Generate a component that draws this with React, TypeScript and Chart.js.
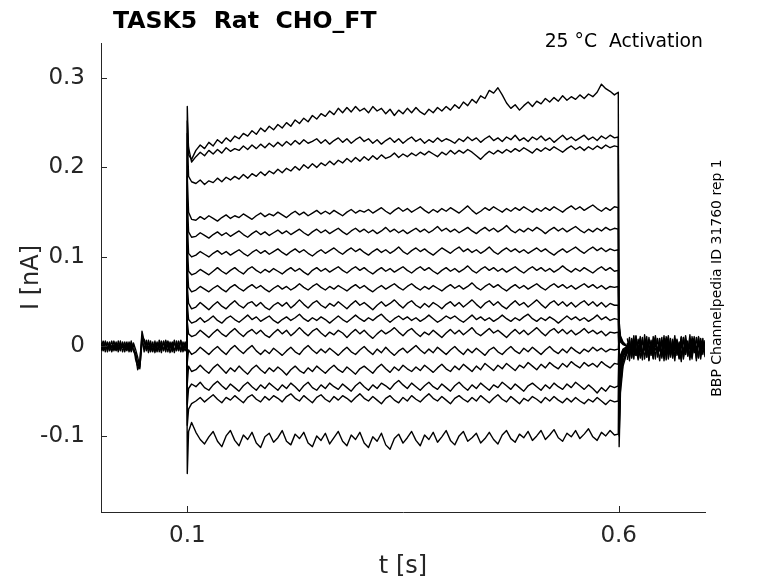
import React, { useEffect, useRef } from "react";
import { Chart, registerables } from "chart.js";

Chart.register(...registerables);

// time grid (s) for the voltage-step part of every sweep
const stepTimes = [
  0.0995, 0.1, 0.1015, 0.105,
  0.11, 0.115, 0.12, 0.125, 0.13, 0.135, 0.14, 0.145, 0.15, 0.155,
  0.16, 0.165, 0.17, 0.175, 0.18, 0.185, 0.19, 0.195, 0.2, 0.205,
  0.21, 0.215, 0.22, 0.225, 0.23, 0.235, 0.24, 0.245, 0.25, 0.255,
  0.26, 0.265, 0.27, 0.275, 0.28, 0.285, 0.29, 0.295, 0.3, 0.305,
  0.31, 0.315, 0.32, 0.325, 0.33, 0.335, 0.34, 0.345, 0.35, 0.355,
  0.36, 0.365, 0.37, 0.375, 0.38, 0.385, 0.39, 0.395, 0.4, 0.405,
  0.41, 0.415, 0.42, 0.425, 0.43, 0.435, 0.44, 0.445, 0.45, 0.455,
  0.46, 0.465, 0.47, 0.475, 0.48, 0.485, 0.49, 0.495, 0.5, 0.505,
  0.51, 0.515, 0.52, 0.525, 0.53, 0.535, 0.54, 0.545, 0.55, 0.555,
  0.56, 0.565, 0.57, 0.575, 0.58, 0.585, 0.59, 0.595,
  0.5995, 0.6005, 0.602, 0.605, 0.61,
];

// sweep currents in pA, top sweep first
const trace01 = [0, 268, 214, 209,
  219, 225, 221, 228, 224, 231, 227, 233, 229, 235,
  232, 238, 235, 241, 237, 244, 240, 246, 242, 248,
  244, 250, 246, 253, 249, 255, 251, 258, 254, 260,
  257, 263, 259, 266, 261, 267, 262, 268, 263, 266,
  261, 268, 263, 266, 260, 265, 258, 264, 260, 266,
  261, 267, 262, 259, 265, 261, 267, 263, 268, 264,
  270, 266, 273, 269, 276, 272, 280, 277, 286, 283,
  289, 281, 272, 266, 270, 264, 269, 273, 268, 274,
  271, 277, 273, 278, 274, 280, 275, 279, 276, 281,
  277, 282, 279, 284, 293, 288, 285, 281,
  284, -112, -52, -22, -6];
const trace02 = [0, 252, 222, 206,
  212, 217, 213, 219, 215, 220, 216, 222, 218, 221,
  219, 224, 220, 225, 221, 226, 222, 227, 223, 228,
  224, 229, 225, 230, 226, 231, 227, 229, 232, 227,
  231, 226, 230, 233, 228, 232, 227, 231, 234, 229,
  232, 227, 231, 226, 230, 233, 228, 232, 227, 231,
  234, 229, 232, 227, 231, 228, 233, 229, 232, 230,
  227, 232, 229, 234, 230, 233, 228, 232, 235, 230,
  233, 229, 234, 231, 236, 230, 233, 229, 234, 231,
  235, 230, 233, 228, 232, 236, 231, 234, 230, 233,
  236, 231, 234, 230, 235, 232, 236, 233,
  234, -100, -45, -18, -5];
const trace03 = [0, 238, 190, 184,
  182, 186, 181, 185, 183, 188, 184, 189, 186, 190,
  187, 192, 188, 193, 190, 195, 191, 196, 193, 198,
  194, 199, 196, 201, 197, 203, 199, 204, 200, 205,
  202, 207, 203, 208, 205, 210, 206, 211, 207, 212,
  208, 213, 209, 214, 210, 212, 216, 211, 215, 212,
  216, 213, 217, 214, 218, 215, 212, 217, 214, 219,
  215, 219, 216, 220, 217, 213, 209, 214, 218, 215,
  219, 216, 220, 217, 221, 218, 222, 219, 216, 221,
  218, 222, 219, 223, 220, 217, 221, 224, 220, 223,
  219, 223, 220, 224, 221, 225, 222, 224,
  223, -90, -40, -16, -4];
const trace04 = [0, 190, 150, 142,
  141, 145, 142, 146, 143, 140, 144, 147, 143, 146,
  144, 148, 145, 142, 146, 149, 145, 148, 146, 150,
  147, 144, 148, 151, 147, 150, 146, 149, 152, 148,
  151, 148, 152, 149, 146, 150, 153, 149, 152, 150,
  153, 149, 152, 155, 151, 148, 152, 155, 151, 154,
  150, 153, 156, 152, 149, 153, 150, 154, 151, 155,
  152, 149, 153, 157, 152, 148, 151, 155, 152, 156,
  153, 150, 154, 151, 155, 152, 156, 153, 150, 154,
  151, 155, 152, 156, 153, 150, 154, 157, 153, 156,
  152, 155, 158, 154, 151, 155, 152, 156,
  155, -70, -32, -12, -3];
const trace05 = [0, 165, 128, 122,
  123, 127, 124, 121, 125, 128, 124, 127, 123, 126,
  129, 125, 122, 126, 129, 125, 128, 124, 127, 130,
  126, 129, 125, 128, 131, 127, 124, 128, 131, 127,
  130, 126, 129, 132, 128, 125, 129, 132, 128, 131,
  127, 130, 126, 129, 133, 128, 131, 127, 130, 126,
  129, 132, 128, 131, 127, 130, 134, 129, 132, 128,
  131, 127, 130, 133, 129, 126, 130, 133, 129, 132,
  128, 131, 135, 130, 127, 131, 128, 132, 129, 133,
  130, 126, 130, 133, 129, 132, 128, 131, 134, 130,
  127, 131, 128, 132, 129, 133, 130, 132,
  131, -60, -28, -10, -3];
const trace06 = [0, 140, 104, 100,
  102, 106, 103, 100, 104, 107, 103, 106, 102, 105,
  108, 104, 101, 105, 108, 104, 107, 103, 106, 109,
  105, 102, 106, 109, 105, 108, 104, 101, 105, 108,
  104, 107, 110, 106, 103, 107, 110, 106, 109, 105,
  102, 106, 109, 105, 108, 104, 107, 111, 106, 103,
  107, 110, 106, 109, 105, 102, 106, 110, 107, 104,
  108, 111, 106, 109, 105, 108, 104, 107, 111, 106,
  103, 107, 110, 106, 109, 105, 108, 104, 107, 110,
  106, 109, 105, 102, 106, 109, 105, 108, 111, 107,
  104, 108, 111, 107, 110, 106, 109, 107,
  108, -52, -24, -9, -2];
const trace07 = [0, 115, 84, 80,
  82, 86, 83, 80, 84, 88, 84, 81, 85, 88,
  84, 81, 86, 89, 85, 82, 86, 83, 87, 84,
  81, 85, 88, 84, 87, 83, 80, 85, 88, 84,
  87, 83, 86, 89, 85, 82, 86, 89, 85, 88,
  84, 81, 85, 88, 84, 87, 83, 86, 89, 85,
  82, 86, 89, 85, 88, 84, 81, 85, 88, 84,
  87, 83, 86, 90, 85, 82, 86, 89, 85, 88,
  84, 87, 83, 86, 89, 85, 82, 86, 89, 85,
  88, 84, 87, 83, 86, 90, 86, 83, 87, 84,
  88, 85, 82, 86, 89, 85, 88, 84,
  85, -45, -20, -8, -2];
const trace08 = [0, 92, 66, 61,
  63, 67, 64, 61, 65, 68, 64, 61, 66, 69,
  65, 62, 66, 69, 65, 68, 64, 61, 65, 68,
  64, 67, 63, 66, 70, 66, 63, 67, 70, 66,
  63, 67, 64, 68, 65, 62, 66, 69, 65, 68,
  64, 61, 65, 68, 64, 67, 70, 66, 63, 67,
  70, 66, 63, 67, 64, 68, 65, 62, 66, 69,
  65, 68, 64, 67, 71, 66, 63, 67, 70, 66,
  69, 65, 62, 66, 69, 65, 68, 64, 67, 70,
  66, 63, 67, 70, 66, 69, 65, 68, 64, 67,
  70, 66, 69, 65, 68, 64, 67, 66,
  67, -38, -17, -6, -1];
const trace09 = [0, 68, 48, 42,
  44, 49, 45, 41, 46, 50, 45, 42, 47, 51,
  46, 43, 48, 50, 45, 49, 44, 41, 46, 49,
  45, 49, 43, 47, 52, 47, 43, 48, 51, 46,
  43, 48, 45, 50, 46, 42, 47, 51, 46, 49,
  45, 41, 46, 50, 45, 48, 52, 47, 43, 48,
  51, 46, 43, 48, 44, 49, 46, 42, 47, 50,
  45, 49, 44, 48, 52, 47, 43, 48, 51, 46,
  50, 45, 42, 47, 51, 46, 49, 44, 48, 52,
  47, 43, 48, 51, 46, 50, 45, 49, 44, 48,
  51, 46, 50, 45, 49, 44, 48, 46,
  46, -32, -14, -5, -1];
const trace10 = [0, 48, 30, 26,
  28, 32, 27, 30, 34, 29, 26, 31, 34, 30,
  27, 31, 35, 30, 33, 28, 31, 34, 29, 26,
  30, 33, 29, 32, 36, 31, 28, 32, 29, 33,
  30, 26, 30, 34, 30, 27, 31, 35, 31, 28,
  32, 29, 33, 36, 31, 27, 31, 34, 30, 33,
  29, 32, 28, 31, 35, 31, 27, 30, 34, 31,
  34, 30, 27, 31, 35, 30, 33, 29, 32, 28,
  31, 35, 31, 28, 32, 29, 33, 36, 31, 28,
  32, 29, 33, 30, 26, 30, 34, 30, 33, 29,
  32, 28, 31, 35, 30, 33, 29, 31,
  30, -28, -12, -4, -1];
const trace11 = [0, 28, 14, 11,
  13, 18, 14, 10, 15, 19, 14, 11, 16, 20,
  15, 11, 16, 19, 14, 18, 13, 10, 15, 19,
  14, 18, 12, 16, 21, 16, 12, 17, 20, 15,
  11, 16, 13, 18, 15, 10, 15, 19, 14, 18,
  13, 9, 14, 18, 14, 17, 21, 16, 12, 17,
  20, 15, 11, 16, 13, 18, 14, 10, 15, 19,
  14, 18, 13, 17, 21, 15, 12, 16, 20, 15,
  18, 14, 10, 15, 19, 14, 18, 13, 17, 21,
  16, 12, 17, 20, 15, 19, 14, 18, 13, 16,
  20, 15, 18, 14, 17, 12, 16, 15,
  16, -22, -10, -3, 0];
const trace12 = [0, -18, -4, -9,
  -6, -1, -5, -9, -4, 0, -5, -9, -3, 1,
  -4, -8, -3, 1, -5, -9, -4, -8, -2, -6,
  -10, -5, -1, -6, -9, -3, 1, -4, -8, -3,
  -7, -2, -6, -10, -5, -1, -6, -9, -4, 0,
  -5, -9, -3, -7, -1, -6, -10, -5, -2, -7,
  -3, 1, -4, -8, -3, -7, -1, -5, -9, -4,
  0, -5, -9, -3, -7, -2, -6, -10, -4, -1,
  -6, -9, -4, 0, -5, -8, -2, -6, -1, -5,
  -9, -4, 0, -5, -8, -3, -7, -1, -5, -8,
  -3, -6, -1, -5, -2, -6, -3, -4,
  -3, 10, 5, 2, 0];
const trace13 = [0, -42, -22, -28,
  -26, -21, -26, -30, -24, -20, -25, -30, -24, -28,
  -22, -27, -31, -25, -21, -26, -30, -24, -28, -23,
  -27, -32, -26, -22, -27, -30, -24, -28, -22, -26,
  -30, -25, -21, -26, -29, -23, -27, -31, -25, -22,
  -26, -30, -24, -20, -25, -29, -23, -27, -21, -25,
  -28, -23, -27, -21, -25, -29, -24, -20, -25, -28,
  -22, -26, -20, -24, -28, -22, -26, -19, -23, -27,
  -21, -25, -19, -23, -27, -21, -24, -18, -22, -26,
  -20, -24, -18, -22, -25, -19, -23, -17, -21, -24,
  -18, -22, -19, -23, -17, -21, -24, -19,
  -20, 14, 7, 3, 0];
const trace14 = [0, -65, -47, -42,
  -45, -40, -46, -49, -43, -39, -44, -48, -42, -46,
  -50, -44, -40, -45, -49, -43, -47, -41, -45, -49,
  -43, -47, -41, -45, -50, -44, -40, -46, -49, -43,
  -47, -41, -45, -48, -42, -46, -50, -44, -40, -45,
  -49, -43, -47, -41, -44, -48, -42, -38, -43, -47,
  -41, -45, -49, -44, -40, -45, -48, -42, -46, -50,
  -44, -40, -45, -49, -43, -47, -41, -45, -49, -43,
  -46, -40, -44, -48, -42, -46, -50, -44, -41, -45,
  -49, -43, -47, -41, -45, -48, -42, -46, -40, -44,
  -48, -43, -47, -52, -46, -50, -44, -46,
  -44, 18, 9, 3, 0];
const trace15 = [0, -88, -70, -64,
  -61, -57, -62, -58, -54, -59, -63, -57, -60, -55,
  -59, -63, -57, -54, -59, -62, -56, -60, -55, -58,
  -62, -56, -53, -58, -61, -55, -59, -63, -57, -54,
  -59, -62, -56, -60, -55, -58, -62, -57, -53, -58,
  -61, -56, -60, -64, -58, -55, -60, -63, -57, -61,
  -55, -59, -62, -57, -53, -58, -61, -56, -60, -64,
  -58, -55, -59, -62, -57, -61, -55, -59, -63, -58,
  -54, -59, -62, -56, -60, -64, -58, -61, -56, -59,
  -63, -57, -61, -56, -60, -63, -58, -62, -57, -61,
  -64, -59, -62, -57, -61, -65, -60, -62,
  -61, 22, 10, 4, 0];
const trace16 = [0, -142, -95, -85,
  -96, -104, -109, -101, -95, -106, -112, -100, -94, -105,
  -111, -99, -104, -96, -108, -113, -101, -97, -107, -102,
  -94, -106, -110, -98, -103, -96, -108, -112, -100, -105,
  -97, -109, -102, -95, -106, -111, -99, -104, -96, -108,
  -113, -101, -106, -97, -110, -115, -103, -98, -108, -102,
  -95, -105, -111, -99, -104, -96, -107, -101, -94, -105,
  -110, -100, -95, -106, -102, -97, -108, -103, -96, -104,
  -109, -99, -94, -103, -107, -98, -102, -95, -105, -100,
  -94, -104, -99, -93, -102, -106, -97, -101, -94, -103,
  -98, -92, -101, -105, -96, -100, -94, -99,
  -98, 28, 12, 5, 0];

const traces = [
  trace01, trace02, trace03, trace04, trace05, trace06, trace07, trace08,
  trace09, trace10, trace11, trace12, trace13, trace14, trace15, trace16,
];

// holding baseline before the step (pA)
const preTimes = [
  0, 0.0025, 0.005, 0.0075, 0.01, 0.0125, 0.015, 0.0175, 0.02, 0.0225,
  0.025, 0.0275, 0.03, 0.0325, 0.035, 0.0375, 0.04, 0.0425, 0.045, 0.0475,
  0.05, 0.0525, 0.055, 0.0575, 0.06, 0.0625, 0.065, 0.0675, 0.07, 0.0725,
  0.075, 0.0775, 0.08, 0.0825, 0.085, 0.0875, 0.09, 0.0925, 0.095, 0.0975,
  0.0995,
];
const preA = [4, -5, 6, -3, 5, -6, 2, -5, 6, -2, 5, -6, 3, -4, 6, -5, -10, -26, -20, 17,
  6, -5, 7, -3, 5, -7, 3, -2, 6, -5, 3, -6, 5, -3, 7, -5, 2, -6, 5, -2, 3];
const preB = [-5, 3, -6, 5, -2, 6, -5, 3, -4, 6, -6, 2, -5, 5, -3, 3, -14, -22, -16, 12,
  -6, 7, -3, 6, -5, 3, -6, 7, -3, 5, -6, 6, -2, 5, -7, 3, -5, 6, -3, 5, -3];
const preC = [2, -4, 5, -6, 3, -2, 6, -4, 2, -5, 3, -2, 5, -6, 2, -4, -7, -18, -25, 8,
  -3, 5, -7, 2, -6, 6, -5, 3, -7, 6, -3, 5, -7, 2, -5, 6, -3, 7, -6, 3, 0];
const preD = [-1, 6, -2, 4, -5, 1, -3, 5, -6, 3, -1, 5, -4, 2, -6, 4, -3, -12, -23, 3,
  8, -2, 4, -6, 1, -3, 5, -6, 2, -4, 7, -1, 3, -6, 4, -2, 6, -4, 1, -5, 1];

// baseline after the step (pA)
const postTimes = [
  0.61, 0.6125, 0.615, 0.6175, 0.62, 0.6225, 0.625, 0.6275, 0.63, 0.6325,
  0.635, 0.6375, 0.64, 0.6425, 0.645, 0.6475, 0.65, 0.6525, 0.655, 0.6575,
  0.66, 0.6625, 0.665, 0.6675, 0.67, 0.6725, 0.675, 0.6775, 0.68, 0.6825,
  0.685, 0.6875, 0.69, 0.6925, 0.695, 0.6975, 0.7,
];
const postA = [-8, 6, -12, 4, -10, 8, -6, 10, -14, 3, -9, 7, -13, 5, -7, 9, -11, 2, -8, 10,
  -12, 6, -5, 8, -14, 4, -9, 7, -11, 3, -6, 9, -13, 5, -8, 6, -10];
const postB = [4, -11, 9, -7, 11, -13, 5, -9, 8, -12, 10, -6, 7, -14, 9, -5, 6, -12, 11, -8,
  4, -13, 9, -7, 5, -11, 10, -9, 6, -15, 8, -6, 10, -12, 4, -9, 7];
const postC = [-15, 2, -6, 12, -10, 1, -13, 7, -4, 11, -16, 3, -8, 9, -12, 0, -7, 12, -15, 4,
  -9, 8, -11, 1, -6, 10, -14, 5, -10, 8, -3, 11, -16, 6, -7, 9, -12];
const postD = [3, -16, 8, -3, 12, -8, 0, -15, 13, -5, 2, -10, 11, -4, -1, -16, 7, -2, 9, -14,
  1, -6, 12, -10, -2, -17, 10, -4, 3, -12, 11, -7, 0, -13, 9, -3, 2];
const postE = [-4, 10, -13, 6, -2, -15, 9, -9, 4, -12, 7, -1, -14, 10, -6, 3, -13, 8, -3, 12,
  -9, 0, -16, 7, -5, 11, -12, 2, -8, 13, -11, 5, -4, 10, -14, 3, -6];
const postF = [9, -6, 2, -14, 8, -4, 11, -10, -1, 7, -15, 5, -3, 12, -9, -2, 10, -16, 4, -5,
  9, -11, 3, -1, -13, 8, -7, 12, -4, -1, -14, 6, -9, 11, -5, 0, -8];

const xTicks = [0.1, 0.6];
const yTicks = [-0.1, 0, 0.1, 0.2, 0.3];

const FONT = '"DejaVu Sans", sans-serif';
const AXIS_COLOR = "#262626";

const toPoints = (times: number[], pa: number[]) =>
  times.map((t, i) => ({ x: t, y: pa[i] / 1000 }));

const lineStyle = {
  borderColor: "#000",
  borderWidth: 1.4,
  pointRadius: 0,
  tension: 0,
  fill: false,
  borderJoinStyle: "round" as const,
};

const decorations = {
  id: "decorations",
  afterDraw(chart: any) {
    const { ctx, chartArea } = chart;
    const { left, right, top, bottom } = chartArea;
    const xs = chart.scales.x;
    const ys = chart.scales.y;
    ctx.save();

    // inward tick marks
    ctx.strokeStyle = AXIS_COLOR;
    ctx.lineWidth = 1;
    ctx.beginPath();
    xTicks.forEach((v) => {
      const px = Math.round(xs.getPixelForValue(v)) + 0.5;
      ctx.moveTo(px, bottom);
      ctx.lineTo(px, bottom - 6);
    });
    yTicks.forEach((v) => {
      const py = Math.round(ys.getPixelForValue(v)) + 0.5;
      ctx.moveTo(left, py);
      ctx.lineTo(left + 6, py);
    });
    ctx.stroke();

    // title
    ctx.fillStyle = "#000";
    ctx.font = `bold 23.6px ${FONT}`;
    ctx.textAlign = "left";
    ctx.textBaseline = "alphabetic";
    ctx.fillText("TASK5  Rat  CHO_FT", 113, 28);

    // condition note
    ctx.font = `18.8px ${FONT}`;
    ctx.textAlign = "right";
    ctx.fillText("25 °C  Activation", 703, 47);

    // axis labels
    ctx.fillStyle = AXIS_COLOR;
    ctx.font = `24px ${FONT}`;
    ctx.textAlign = "center";
    ctx.textBaseline = "middle";
    ctx.fillText("t [s]", (left + right) / 2, 567);

    ctx.save();
    ctx.translate(32, (top + bottom) / 2);
    ctx.rotate(-Math.PI / 2);
    ctx.fillText("I [nA]", 0, 0);
    ctx.restore();

    // source note on the right
    ctx.fillStyle = "#000";
    ctx.save();
    ctx.translate(717, 278);
    ctx.rotate(-Math.PI / 2);
    ctx.font = `14px ${FONT}`;
    ctx.fillText("BBP Channelpedia ID 31760 rep 1", 0, 0);
    ctx.restore();

    ctx.restore();
  },
};

export default function App() {
  const canvasRef = useRef<HTMLCanvasElement>(null);

  useEffect(() => {
    document.body.style.margin = "0";
    const ctx = canvasRef.current?.getContext("2d");
    if (!ctx) return;

    const datasets: any[] = [];
    [preA, preB, preC, preD].forEach((p) =>
      datasets.push({ data: toPoints(preTimes, p), ...lineStyle })
    );
    traces.forEach((tr) =>
      datasets.push({ data: toPoints(stepTimes, tr), ...lineStyle })
    );
    [postA, postB, postC, postD, postE, postF].forEach((p) =>
      datasets.push({ data: toPoints(postTimes, p), ...lineStyle })
    );

    const chart = new Chart(ctx, {
      type: "line",
      data: { datasets },
      options: {
        animation: false,
        responsive: true,
        maintainAspectRatio: false,
        parsing: false,
        normalized: true,
        layout: { padding: { left: 0, right: 73, top: 43, bottom: 0 } },
        plugins: {
          legend: { display: false },
          tooltip: { enabled: false },
          title: { display: false },
        },
        scales: {
          x: {
            type: "linear",
            min: 0,
            max: 0.7,
            grid: { display: false, drawTicks: false },
            border: { display: true, color: AXIS_COLOR, width: 1 },
            afterBuildTicks: (s: any) => {
              s.ticks = xTicks.map((v) => ({ value: v }));
            },
            afterFit: (s: any) => {
              s.height = 71;
            },
            ticks: {
              color: AXIS_COLOR,
              font: { family: FONT, size: 23 },
              padding: 10,
              maxRotation: 0,
              callback: (v: any) => String(v),
            },
          },
          y: {
            type: "linear",
            min: -0.185,
            max: 0.339,
            grid: { display: false, drawTicks: false },
            border: { display: true, color: AXIS_COLOR, width: 1 },
            afterBuildTicks: (s: any) => {
              s.ticks = yTicks.map((v) => ({ value: v }));
            },
            afterFit: (s: any) => {
              s.width = 101;
            },
            ticks: {
              color: AXIS_COLOR,
              font: { family: FONT, size: 23 },
              padding: 16,
              callback: (v: any) => (v === 0 ? "0" : Number(v).toFixed(1)),
            },
          },
        },
      },
      plugins: [decorations],
    });

    return () => {
      chart.destroy();
    };
  }, []);

  return (
    <div style={{ width: 778, height: 583, position: "relative" }}>
      <canvas ref={canvasRef} />
    </div>
  );
}
